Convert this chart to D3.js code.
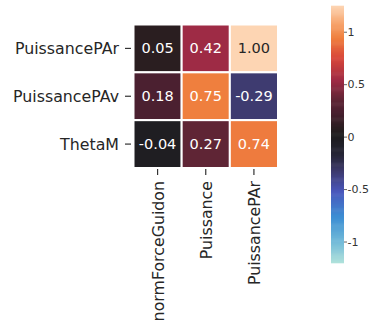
<!DOCTYPE html>
<html>
<head>
<meta charset="utf-8">
<script src="https://cdn.jsdelivr.net/npm/d3@7"></script>
<style>
  body { margin: 0; background: #fff; }
  svg { display: block; font-family: "DejaVu Sans", sans-serif; }
</style>
</head>
<body>
<div id="chart"></div>
<script>
// data
const rowNames = ["PuissancePAr", "PuissancePAv", "ThetaM"];
const colNames = ["normForceGuidon", "Puissance", "PuissancePAr"];
const corr = [
  [0.05, 0.42, 1.00],
  [0.18, 0.75, -0.29],
  [-0.04, 0.27, 0.74]
];
const barTicks = [-1, -0.5, 0, 0.5, 1];

// icefire-like colormap, t in [0,1]
const cmapStops = [0, 0.08, 0.18, 0.28, 0.355, 0.42, 0.48, 0.5, 0.525, 0.59, 0.635, 0.71, 0.80, 0.875, 0.93, 1];
const cmapColors = ["#b1e2db", "#74bcd9", "#3c8ed3", "#4a56bb", "#3e3b70", "#272638", "#1f1e22", "#1e1d1e",
  "#2a1e20", "#4b2030", "#5f2535", "#9e2b45", "#d9473a", "#ef7f3e", "#f6a26a", "#fdd5b3"];
const cmap = d3.scaleLinear().domain(cmapStops).range(cmapColors).interpolate(d3.interpolateRgb).clamp(true);

const cellT = d3.scaleLinear().domain([-1, 1]).range([0, 1]);
const barT = d3.scaleLinear().domain([-1.2, 1.25]).range([0, 1]);

function lum(col) {
  const c = d3.rgb(col);
  const f = v => { v = v / 255; return v <= 0.03928 ? v / 12.92 : Math.pow((v + 0.055) / 1.055, 2.4); };
  return 0.2126 * f(c.r) + 0.7152 * f(c.g) + 0.0722 * f(c.b);
}
const fmt = v => d3.format(".2f")(v).replace("\u2212", "-");

const width = 370, height = 326;
const svg = d3.select("#chart").append("svg")
  .attr("width", width).attr("height", height);

const x = d3.scaleBand().domain(colNames).range([133.5, 278]);
const y = d3.scaleBand().domain(rowNames).range([24.5, 168]);

const cells = [];
corr.forEach((row, i) => row.forEach((v, j) => cells.push({r: rowNames[i], c: colNames[j], v: v})));

svg.append("g").selectAll("rect")
  .data(cells)
  .join("rect")
  .attr("x", d => x(d.c))
  .attr("y", d => y(d.r))
  .attr("width", x.bandwidth())
  .attr("height", y.bandwidth())
  .attr("fill", d => cmap(cellT(d.v)))
  .attr("stroke", "#fff")
  .attr("stroke-width", 2);

svg.append("g").selectAll("text")
  .data(cells)
  .join("text")
  .attr("x", d => x(d.c) + x.bandwidth() / 2)
  .attr("y", d => y(d.r) + y.bandwidth() / 2)
  .attr("text-anchor", "middle")
  .attr("dominant-baseline", "central")
  .attr("font-size", 14.5)
  .attr("fill", d => lum(cmap(cellT(d.v))) > 0.408 ? "#262626" : "#fff")
  .text(d => fmt(d.v));

// y axis
const yAx = svg.append("g");
yAx.selectAll("line")
  .data(rowNames)
  .join("line")
  .attr("x1", 125).attr("x2", 131)
  .attr("y1", d => y(d) + y.bandwidth() / 2)
  .attr("y2", d => y(d) + y.bandwidth() / 2)
  .attr("stroke", "#333").attr("stroke-width", 1.2);
yAx.selectAll("text")
  .data(rowNames)
  .join("text")
  .attr("x", 119)
  .attr("y", d => y(d) + y.bandwidth() / 2)
  .attr("text-anchor", "end")
  .attr("dominant-baseline", "central")
  .attr("font-size", 15.8)
  .attr("fill", "#262626")
  .text(d => d);

// x axis
const xAx = svg.append("g");
xAx.selectAll("line")
  .data(colNames)
  .join("line")
  .attr("x1", d => x(d) + x.bandwidth() / 2)
  .attr("x2", d => x(d) + x.bandwidth() / 2)
  .attr("y1", 169).attr("y2", 175)
  .attr("stroke", "#333").attr("stroke-width", 1.2);
xAx.selectAll("text")
  .data(colNames)
  .join("text")
  .attr("transform", d => `translate(${x(d) + x.bandwidth() / 2 + 1},181) rotate(-90)`)
  .attr("text-anchor", "end")
  .attr("dominant-baseline", "central")
  .attr("font-size", 15.8)
  .attr("fill", "#262626")
  .text(d => d);

// colorbar
const cb = d3.scaleLinear().domain([-1.2, 1.25]).range([263, 6]);
const nSlices = 240;
const slices = d3.range(nSlices).map(i => -1.2 + (i + 0.5) * 2.45 / nSlices);
const sliceH = (263 - 6) / nSlices;
svg.append("g").selectAll("rect")
  .data(slices)
  .join("rect")
  .attr("x", 331)
  .attr("width", 13)
  .attr("y", d => cb(d) - sliceH / 2 - 0.3)
  .attr("height", sliceH + 0.6)
  .attr("fill", d => cmap(barT(d)));

const cbAx = svg.append("g");
cbAx.selectAll("line")
  .data(barTicks)
  .join("line")
  .attr("x1", 344).attr("x2", 347)
  .attr("y1", d => cb(d)).attr("y2", d => cb(d))
  .attr("stroke", "#666").attr("stroke-width", 1);
cbAx.selectAll("text")
  .data(barTicks)
  .join("text")
  .attr("x", 347.5)
  .attr("y", d => cb(d))
  .attr("dominant-baseline", "central")
  .attr("font-size", 11)
  .attr("fill", "#333")
  .text(d => d3.format("")(d).replace("\u2212", "-"));
</script>
</body>
</html>
